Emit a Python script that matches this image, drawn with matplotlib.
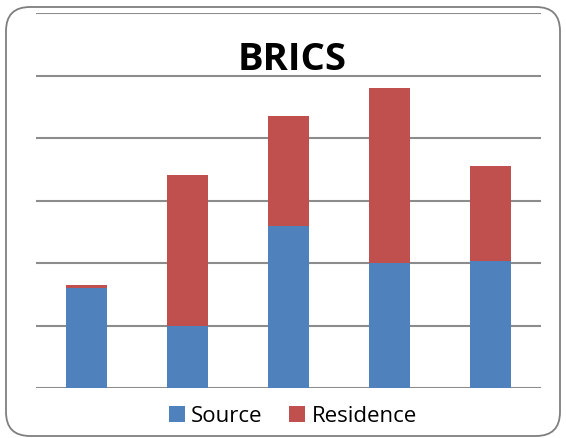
import matplotlib
matplotlib.use("Agg")
import matplotlib.pyplot as plt
from matplotlib.patches import FancyBboxPatch
from matplotlib.transforms import IdentityTransform

categories = ["1", "2", "3", "4", "5"]
source = [1.6, 1.0, 2.6, 2.0, 2.04]
residence = [0.05, 2.41, 1.75, 2.8, 1.51]
title = "BRICS"
series_names = ["Source", "Residence"]

blue = "#4F81BD"
red = "#C0504D"

fig = plt.figure(figsize=(5.66, 4.39), dpi=100)
ax = fig.add_axes([36/566, 1-389/439, (541-36)/566, (389-14)/439])
x = list(range(len(categories)))
ax.bar(x, source, width=0.41, color=blue, label=series_names[0], zorder=3)
ax.bar(x, residence, width=0.41, bottom=source, color=red, label=series_names[1], zorder=3)
ax.set_xlim(-0.5, 4.5)
ax.set_ylim(0, 6)
ax.set_yticks(range(0, 7))
ax.grid(axis="y", color="#8c8c8c", linewidth=1.5, zorder=0)
ax.set_axisbelow(True)
ax.tick_params(left=False, bottom=False, labelleft=False, labelbottom=False)
for s in ax.spines.values():
    s.set_visible(False)
ax.patch.set_alpha(0)

fig.text(292/566, 1-60/439, title, ha="center", va="center", fontsize=27.5,
         fontweight="bold", family="Open Sans", color="black")

leg = fig.legend(loc="center", bbox_to_anchor=(293/566, 1-417/439), ncol=2,
                 frameon=False, handlelength=0.7, handleheight=0.7,
                 handletextpad=0.3, columnspacing=1.2, prop={"family": "Open Sans", "size": 16})

border = FancyBboxPatch((6, 2), 554, 429, boxstyle="round,pad=0,rounding_size=24",
                        transform=IdentityTransform(), facecolor="none",
                        edgecolor="#7f7f7f", linewidth=1.3)
fig.patches.append(border)

fig.savefig("out.png", dpi=100)
